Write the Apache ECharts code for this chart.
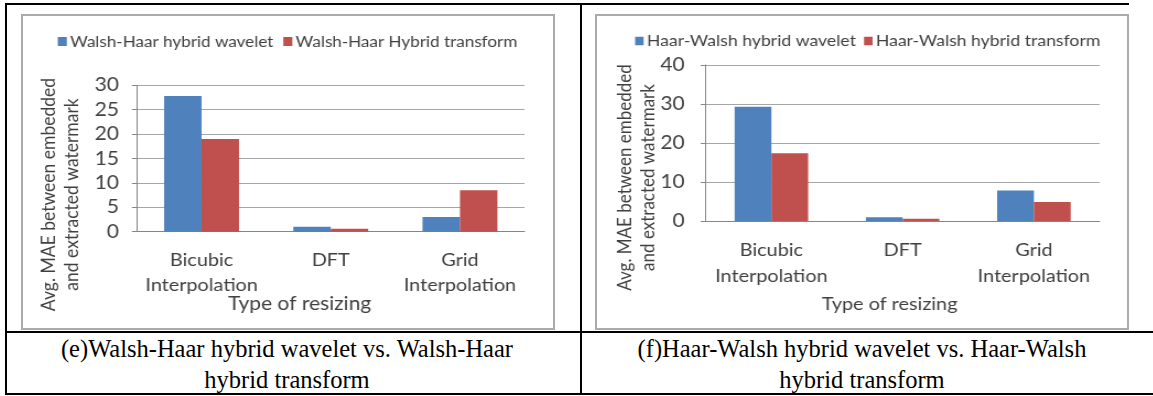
<!DOCTYPE html>
<html>
<head>
<meta charset="utf-8">
<script src="https://cdn.jsdelivr.net/npm/echarts@6/dist/echarts.min.js"></script>
<style>
  html, body { margin: 0; padding: 0; background: #fff; }
  body { position: relative; width: 1153px; height: 396px; overflow: hidden; }
  .rule { position: absolute; background: #000; }
  .frame { position: absolute; box-sizing: border-box; border: 2px solid #ababab; background: #fff; }
  .chart { position: absolute; transform-origin: 0 0; }
  .cap { position: absolute; width: 560px; font-family: "Liberation Serif", "Times New Roman", serif;
         font-size: 24.5px; line-height: 31px; text-align: center; color: #000; white-space: nowrap; }
</style>
</head>
<body>
  <!-- table rules -->
  <div class="rule" style="left:5px;top:3px;width:1124px;height:2px"></div>
  <div class="rule" style="left:5px;top:3px;width:2px;height:392px"></div>
  <div class="rule" style="left:580px;top:3px;width:2px;height:392px"></div>
  <div class="rule" style="left:5px;top:331px;width:1148px;height:2px"></div>
  <div class="rule" style="left:5px;top:393px;width:1148px;height:2px"></div>

  <!-- chart frames -->
  <div class="frame" style="left:21px;top:14px;width:534px;height:316px"></div>
  <div class="frame" style="left:595px;top:14px;width:534px;height:316px"></div>

  <div id="chartE" class="chart"></div>
  <div id="chartF" class="chart"></div>

  <div class="cap" style="left:7px;top:333px">(e)Walsh-Haar hybrid wavelet vs. Walsh-Haar<br>hybrid transform</div>
  <div class="cap" style="left:582px;top:333px">(f)Haar-Walsh hybrid wavelet vs. Haar-Walsh<br>hybrid transform</div>

<script>
// Resizing methods on the category axis
const categories = ['Bicubic\nInterpolation', 'DFT', 'Grid\nInterpolation'];

// (e) average MAE, Walsh-Haar
const walshHaarWavelet   = [27.8, 1.0, 3.0];
const walshHaarTransform = [19.0, 0.6, 8.5];

// (f) average MAE, Haar-Walsh
const haarWalshWavelet   = [29.3, 0.95, 7.8];
const haarWalshTransform = [17.4, 0.6, 4.9];

// value-axis ranges
const axisE = { min: 0, max: 30, interval: 5 };
const axisF = { min: 0, max: 40, interval: 10 };

const FONT = 'Lato, "Open Sans", sans-serif';
const TXT = '#404040';
const AXIS = '#868686';
const GRID = '#a6a6a6';
const BLUE = '#4f81bd';
const RED = '#c0504d';

function build(dom, p) {
  const k = p.k, L = p.left, T = p.top;
  const X = v => (v - L) / k;      // page x -> chart x
  const Y = v => v - T;            // page y -> chart y
  const W = p.width / k, H = p.height;
  Object.assign(dom.style, {
    left: L + 'px', top: T + 'px', width: W + 'px', height: H + 'px',
    transform: 'scaleX(' + k + ')'
  });
  const chart = echarts.init(dom, null, { renderer: 'canvas', width: W, height: H });
  chart.setOption({
    animation: false,
    textStyle: { fontFamily: FONT },
    legend: {
      left: X(p.legendX), top: Y(p.legendY) - 9, padding: 0,
      icon: 'rect', itemWidth: p.sq / k, itemHeight: p.sq,
      itemGap: p.legendGap / k,
      textStyle: { fontSize: p.legendFont, color: TXT, lineHeight: 18, padding: [0, 0, 0, -2] },
      data: p.names
    },
    grid: {
      left: X(p.gx0), width: (p.gx1 - p.gx0) / k,
      top: Y(p.gy0), height: p.gy1 - p.gy0,
      containLabel: false, outerBoundsMode: 'none'
    },
    xAxis: {
      type: 'category', data: categories,
      axisLine: { lineStyle: { color: AXIS, width: 1 } },
      axisTick: { length: 6, lineStyle: { color: AXIS } },
      axisLabel: { fontSize: p.catFont, color: TXT, lineHeight: p.catLH, margin: p.catMargin, interval: 0 }
    },
    yAxis: {
      type: 'value', min: p.axis.min, max: p.axis.max, interval: p.axis.interval,
      axisLine: { show: true, lineStyle: { color: AXIS, width: 1 } },
      axisTick: { show: true, length: 5 / k, lineStyle: { color: AXIS } },
      splitLine: { lineStyle: { color: GRID, width: 1 } },
      axisLabel: { fontSize: p.valFont, color: TXT, margin: p.valMargin / k }
    },
    series: [
      { type: 'bar', name: p.names[0], data: p.a, barGap: '0%', barCategoryGap: p.catGap,
        itemStyle: { color: BLUE } },
      { type: 'bar', name: p.names[1], data: p.b, barGap: '0%', barCategoryGap: p.catGap,
        itemStyle: { color: RED } }
    ],
    graphic: [
      { type: 'text', x: X(p.xNameX), y: Y(p.xNameY),
        style: { text: 'Type of resizing', font: p.xNameFont + 'px ' + FONT, fill: TXT,
                 align: 'center', verticalAlign: 'middle' } },
      { type: 'text', x: X(p.yNameX), y: Y(p.yNameY), rotation: Math.PI / 2,
        style: { text: 'Avg. MAE between embedded\nand extracted watermark',
                 font: p.yNameFont + 'px ' + FONT, lineHeight: p.yNameLH / k, fill: TXT,
                 align: 'center', verticalAlign: 'middle' } }
    ]
  });
}

build(document.getElementById('chartE'), {
  k: 1.1, left: 23, top: 16, width: 530, height: 312,
  names: ['Walsh-Haar hybrid wavelet', 'Walsh-Haar Hybrid transform'],
  a: walshHaarWavelet, b: walshHaarTransform, axis: axisE,
  legendX: 57.7, legendY: 41.5, sq: 9, legendGap: 10, legendFont: 15.5,
  gx0: 136.7, gx1: 523.5, gy0: 85.3, gy1: 231.7,
  catFont: 18, catLH: 25, catMargin: 16, catGap: '42%',
  valFont: 19, valMargin: 18,
  xNameX: 299, xNameY: 304, xNameFont: 19,
  yNameX: 60, yNameY: 194.5, yNameFont: 17.5, yNameLH: 23
});

build(document.getElementById('chartF'), {
  k: 1.1, left: 597, top: 16, width: 530, height: 312,
  names: ['Haar-Walsh hybrid wavelet', 'Haar-Walsh hybrid transform'],
  a: haarWalshWavelet, b: haarWalshTransform, axis: axisF,
  legendX: 635, legendY: 41, sq: 8.5, legendGap: 8, legendFont: 16,
  gx0: 705.5, gx1: 1098.5, gy0: 65, gy1: 221,
  catFont: 18, catLH: 26, catMargin: 16, catGap: '44%',
  valFont: 19, valMargin: 21,
  xNameX: 889, xNameY: 304, xNameFont: 18,
  yNameX: 637, yNameY: 177.5, yNameFont: 17, yNameLH: 23
});
</script>
</body>
</html>
